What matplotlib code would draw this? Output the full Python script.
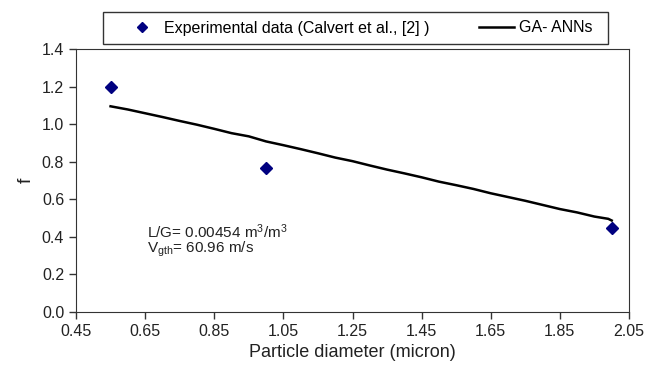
import numpy as np
import matplotlib.pyplot as plt
from matplotlib.patches import Rectangle

plt.rcParams['font.family'] = ['Liberation Sans', 'DejaVu Sans']
plt.rcParams['mathtext.fontset'] = 'custom'
plt.rcParams['mathtext.rm'] = 'Liberation Sans'
plt.rcParams['mathtext.it'] = 'Liberation Sans'

# experimental points (Calvert et al.)
exp_d = [0.55, 1.00, 2.00]
exp_f = [1.20, 0.765, 0.445]

# GA-ANN prediction curve
ann_d = [0.55, 0.60, 0.65, 0.70, 0.75, 0.80, 0.85, 0.90, 0.95, 1.00, 1.05, 1.10,
         1.15, 1.20, 1.25, 1.30, 1.35, 1.40, 1.45, 1.50, 1.55, 1.60, 1.65, 1.70,
         1.75, 1.80, 1.85, 1.90, 1.95, 1.99, 2.00]
ann_f = [1.095, 1.078, 1.058, 1.038, 1.017, 0.997, 0.975, 0.952, 0.935, 0.908,
         0.888, 0.867, 0.845, 0.822, 0.803, 0.780, 0.758, 0.738, 0.717, 0.694,
         0.675, 0.655, 0.632, 0.612, 0.592, 0.570, 0.548, 0.530, 0.508, 0.496, 0.487]

fig = plt.figure(figsize=(6.47, 3.77), dpi=100)
ax = fig.add_axes([76/647, 1 - 312/377, (629-76)/647, (312-49)/377])

ax.plot(exp_d, exp_f, linestyle='none', marker='D', markersize=6,
        color='#000080', label='Experimental data (Calvert et al., [2] )')
ax.plot(ann_d, ann_f, color='black', linewidth=1.8, label='GA- ANNs')

ax.set_xlim(0.45, 2.05)
ax.set_ylim(0.0, 1.4)
xt = np.arange(0.45, 2.06, 0.2)
ax.set_xticks(xt)
ax.set_xticklabels([f"{v:.2f}" for v in xt])
yt = np.arange(0, 1.41, 0.2)
ax.set_yticks(yt)
ax.set_yticklabels([f"{v:.1f}" for v in yt])
ax.tick_params(labelsize=11.5, length=5, width=1, color='#333333', labelcolor='#222222')
for s in ax.spines.values():
    s.set_color('#333333')

ax.set_xlabel('Particle diameter (micron)', fontsize=13, color='#222222', labelpad=4)
ax.set_ylabel('f', fontsize=14, color='#222222', labelpad=5)

ax.text(0.655, 0.43, 'L/G= 0.00454 m$^3$/m$^3$', fontsize=11, color='#222222', va='center')
ax.text(0.655, 0.335, 'V$_{\\mathrm{gth}}$= 60.96 m/s', fontsize=11, color='#222222', va='center')

# legend box drawn separately, entries placed inside
fig.patches.append(Rectangle((103/647, 1 - 44/377), (608-103)/647, 32/377,
                             transform=fig.transFigure, fill=False,
                             edgecolor='#333333', linewidth=1))
leg = ax.legend(loc='center left', bbox_to_anchor=(124/647, 1 - 28/377),
                bbox_transform=fig.transFigure, ncol=2, frameon=False,
                fontsize=11.5, handlelength=2.2, handletextpad=0.3, markerscale=0.8,
                borderaxespad=0, borderpad=0, columnspacing=3.1)

fig.savefig('out.png', dpi=100)
